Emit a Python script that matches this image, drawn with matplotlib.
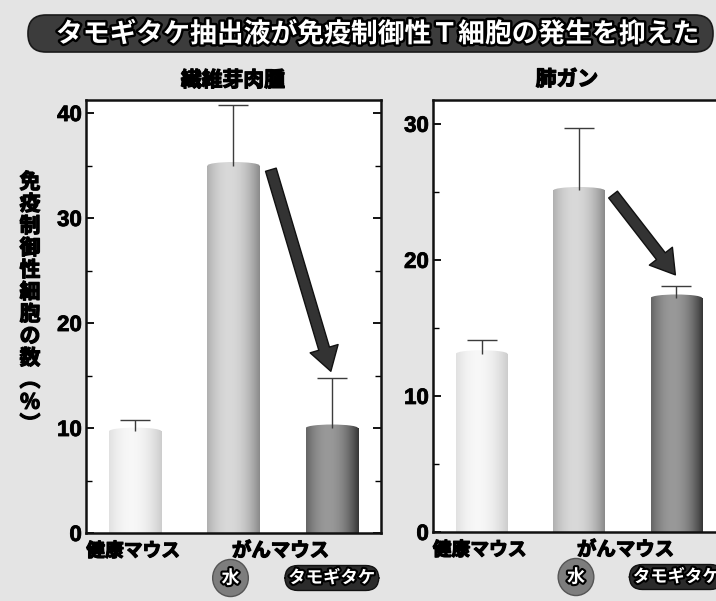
import numpy as np
import matplotlib
matplotlib.use('Agg')
import matplotlib.pyplot as plt
from matplotlib.patches import FancyBboxPatch, FancyArrowPatch, Ellipse
from matplotlib.ticker import MultipleLocator
import matplotlib.patheffects as pe
import matplotlib.transforms as mtransforms

# ---------------- data ----------------
title = 'タモギタケ抽出液が免疫制御性Ｔ細胞の発生を抑えた'
panel_titles = ['繊維芽肉腫', '肺ガン']
ylabel = '免疫制御性細胞の数︵%︶'
healthy_label = '健康マウス'
cancer_label = 'がんマウス'
treatments = ['水', 'タモギタケ']

fibro_values = [9.7, 35.0, 10.0]
fibro_err = [1.1, 5.8, 4.8]
fibro_yticks = [0, 10, 20, 30, 40]

lung_values = [13.1, 25.1, 17.2]
lung_err = [1.0, 4.6, 0.9]
lung_yticks = [0, 10, 20, 30]

# ---------------- style ----------------
JP = ['Noto Sans CJK JP', 'DejaVu Sans']
plt.rcParams['font.family'] = JP
BG = '#e4e4e4'
W, H = 716, 601
fig = plt.figure(figsize=(W / 100, H / 100), dpi=100, facecolor=BG)

def fx(px):
    return px / W

def fy(py):
    return 1 - py / H

# bar shades: (edge colour, highlight colour)
shades = [((0.78, 0.78, 0.78), (0.97, 0.97, 0.97)),
          ((0.50, 0.50, 0.50), (0.85, 0.85, 0.85)),
          ((0.16, 0.16, 0.16), (0.60, 0.60, 0.60))]

outline = [pe.withStroke(linewidth=3, foreground='black')]
heavy = [pe.withStroke(linewidth=0.9, foreground='black')]


def draw_panel(ax, values, errs, yticks, ymax, arrow_from, arrow_to):
    ax.set_xlim(-0.5, 2.5)
    ax.set_ylim(0, ymax)
    x = np.arange(len(values))
    bars = ax.bar(x, values, width=0.53, color='none', edgecolor='none', zorder=2)
    t = np.linspace(0, 1, 64)
    prof = np.clip(1 - ((t - 0.42) / 0.62) ** 2, 0, 1)
    dome = 7.0 * ymax / ax.bbox.height  # ~7 px high cylinder top
    for bar, (edge, hi) in zip(bars, shades):
        e = np.array(edge)
        h = np.array(hi)
        img = e[None, None, :] + (h - e)[None, None, :] * prof[None, :, None]
        x0, y0 = bar.get_x(), bar.get_y()
        bw, bh = bar.get_width(), bar.get_height()
        im = ax.imshow(img, extent=(x0, x0 + bw, y0, y0 + bh),
                       aspect='auto', zorder=2, interpolation='bilinear')
        im.set_clip_path(bar)
        top = Ellipse((x0 + bw / 2, y0 + bh), bw, dome, facecolor='none',
                      edgecolor='none', zorder=2)
        ax.add_patch(top)
        im2 = ax.imshow(img, extent=(x0, x0 + bw, y0 + bh - dome, y0 + bh + dome),
                        aspect='auto', zorder=2, interpolation='bilinear')
        im2.set_clip_path(top)
    _, caps, _ = ax.errorbar(x, values, yerr=[np.zeros(len(errs)), errs], fmt='none',
                             ecolor='#3c3c3c', elinewidth=1.0, capsize=10.5,
                             capthick=1.0, zorder=3)
    caps[0].set_visible(False)
    ax.set_xlim(-0.5, 2.5)
    ax.set_ylim(0, ymax)
    ax.set_xticks([])
    ax.set_yticks(yticks)
    ax.yaxis.set_minor_locator(MultipleLocator(5))
    ax.tick_params(axis='y', which='major', direction='in', length=6, width=1.3,
                   labelsize=16, pad=3, right=True)
    ax.tick_params(axis='y', which='minor', direction='in', length=4, width=1.0, right=True)
    for lbl in ax.get_yticklabels():
        lbl.set_fontfamily('Liberation Sans')
        lbl.set_fontweight('bold')
        lbl.set_path_effects([pe.withStroke(linewidth=0.6, foreground='black')])
    for s in ax.spines.values():
        s.set_linewidth(1.8)
        s.set_color('#111111')
    ax.set_facecolor('white')

    arr = FancyArrowPatch(arrow_from, arrow_to,
                          arrowstyle='simple,head_length=17,head_width=21,tail_width=8',
                          mutation_scale=1, facecolor='#333333', edgecolor='#111111',
                          linewidth=1.0, zorder=4, shrinkA=0, shrinkB=0)
    ax.add_patch(arr)

    # category labels under the axis
    tr = ax.get_xaxis_transform()
    ax.annotate(healthy_label, xy=(x[0], 0), xycoords=tr, xytext=(-2, -18),
                textcoords='offset pixels', ha='center', va='center',
                fontsize=13.5, fontweight='bold', path_effects=heavy,
                annotation_clip=False)
    ax.annotate(cancer_label, xy=(np.mean(x[1:]), 0), xycoords=tr, xytext=(-2, -18),
                textcoords='offset pixels', ha='center', va='center',
                fontsize=14, fontweight='bold', path_effects=heavy,
                annotation_clip=False)
    ax.annotate(treatments[0], xy=(x[1], 0), xycoords=tr, xytext=(-3, -45),
                textcoords='offset pixels', ha='center', va='center',
                fontsize=13, fontweight='bold', color='white', path_effects=outline,
                bbox=dict(boxstyle='ellipse,pad=0.2', fc='#7d7d7d', ec='#555555', lw=1),
                annotation_clip=False)
    ax.annotate(treatments[1], xy=(x[2], 0), xycoords=tr, xytext=(0, -45),
                textcoords='offset pixels', ha='center', va='center',
                fontsize=12.5, fontweight='bold', color='white', path_effects=outline,
                bbox=dict(boxstyle='round,pad=0.2,rounding_size=0.75', fc='#2b2b2b',
                          ec='#111111', lw=1),
                annotation_clip=False)


# left panel
ax1 = fig.add_axes([fx(86), fy(533), fx(381 - 86), (533 - 100) / H])
draw_panel(ax1, fibro_values, fibro_err, fibro_yticks, 41.24,
           (1.38, 34.6), (1.99, 15.4))

# right panel (extends beyond the figure edge as in the reference)
ax2 = fig.add_axes([fx(433), fy(532), fx(292), (532 - 100) / H])
draw_panel(ax2, lung_values, lung_err, lung_yticks, 31.75,
           (1.35, 24.8), (1.99, 18.9))

# panel titles
fig.text(fx(233), fy(80), panel_titles[0], ha='center', va='center',
         fontsize=15, fontweight='bold', path_effects=heavy)
fig.text(fx(567), fy(79), panel_titles[1], ha='center', va='center',
         fontsize=15, fontweight='bold', path_effects=heavy)

# y label (vertical stacked)
fig.text(fx(30), fy(303), '\n'.join(ylabel), ha='center', va='center',
         fontsize=15, fontweight='bold', linespacing=1.06, path_effects=heavy)

# title banner
banner = FancyBboxPatch((28, H - 52), 713 - 28, 37,
                        boxstyle='round,pad=0,rounding_size=18',
                        transform=mtransforms.IdentityTransform(),
                        facecolor='#3c3c3c', edgecolor='#1a1a1a', linewidth=1.2)
fig.patches.append(banner)
fig.text(fx(377), fy(34), title, ha='center', va='center', fontsize=19.3,
         fontweight='bold', color='white',
         path_effects=[pe.withStroke(linewidth=3.5, foreground='black')])

fig.savefig('out.png', dpi=100, facecolor=BG)
